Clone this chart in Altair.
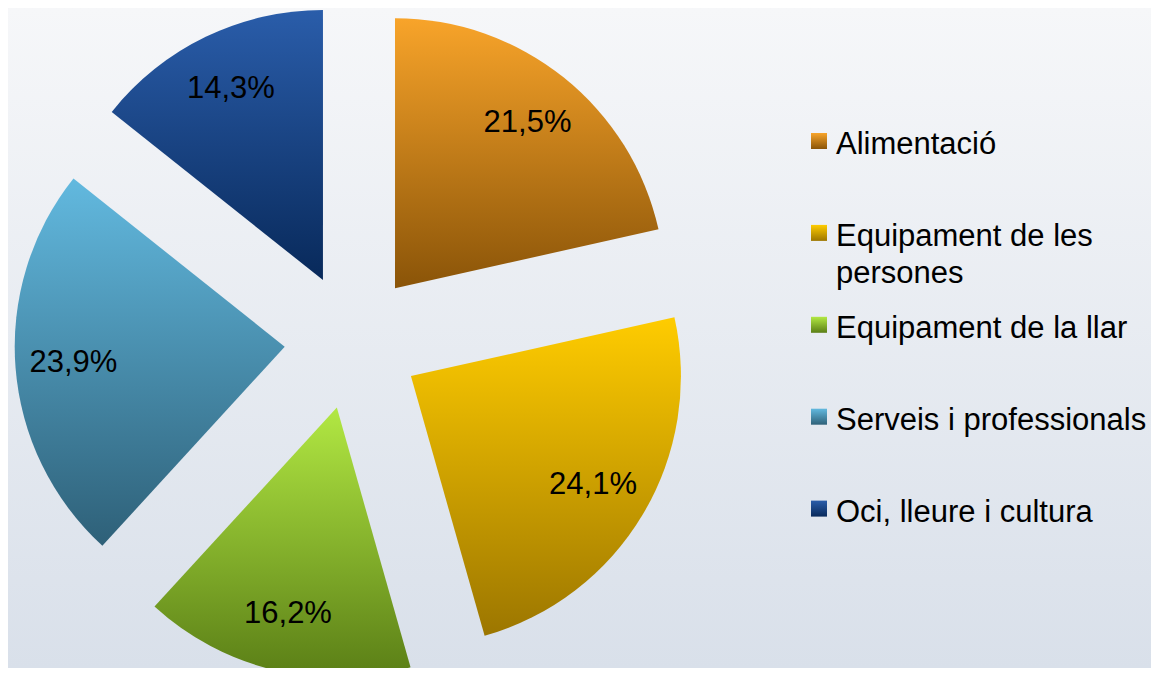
import altair as alt
import pandas as pd

# ---- data ----
categories = [
    "Alimentació",
    "Equipament de les persones",
    "Equipament de la llar",
    "Serveis i professionals",
    "Oci, lleure i cultura",
]
shares = [21.5, 24.1, 16.2, 23.9, 14.3]
legend_lines = [
    ["Alimentació"],
    ["Equipament de les", "persones"],
    ["Equipament de la llar"],
    ["Serveis i professionals"],
    ["Oci, lleure i cultura"],
]
top_colors = ["#F8A42A", "#FFCC00", "#B2E843", "#62B9DF", "#2A5DAA"]
bottom_colors = ["#8A5408", "#9C7600", "#5A7E16", "#2E6078", "#08295A"]

df = pd.DataFrame({
    "category": categories,
    "share": shares,
    "order": list(range(len(categories))),
    "lines": legend_lines,
})

# ---- layout ----
W, H = 1143, 660
CX, CY = 344.5, 333.3      # pie centre
R = 270                    # pie radius
EXPLODE = 68               # explosion distance
LABEL_R = 212              # label distance from slice apex
LEG_X = 811                # legend swatch centre x
LEG_Y0 = 133               # first swatch centre y
LEG_STEP = 91.9            # swatch spacing
FONT = "Liberation Sans"

base = (
    alt.Chart(df)
    .transform_joinaggregate(total="sum(share)")
    .transform_window(cum="sum(share)", sort=[alt.SortField("order")], frame=[None, 0])
    .transform_calculate(
        t1="2*PI*datum.cum/datum.total",
        t0="2*PI*(datum.cum-datum.share)/datum.total",
    )
    .transform_calculate(mid="(datum.t0+datum.t1)/2")
    .transform_calculate(
        cx=f"{CX}+{EXPLODE}*sin(datum.mid)",
        cy=f"{CY}-{EXPLODE}*cos(datum.mid)",
    )
    .transform_calculate(
        lx=f"datum.cx+{LABEL_R}*sin(datum.mid)",
        ly=f"datum.cy-{LABEL_R}*cos(datum.mid)",
        label="replace(format(datum.share, '.1f'), '.', ',') + '%'",
        sy=f"{LEG_Y0}+datum.order*{LEG_STEP}",
    )
    .transform_calculate(ty="datum.sy+13")
)


def grad(i):
    return alt.LinearGradient(
        gradient="linear",
        stops=[
            alt.GradientStop(color=top_colors[i], offset=0),
            alt.GradientStop(color=bottom_colors[i], offset=1),
        ],
        x1=0, x2=0, y1=0, y2=1,
    )


bg = alt.Chart(pd.DataFrame({"a": [0]})).mark_rect(
    fill=alt.LinearGradient(
        gradient="linear",
        stops=[
            alt.GradientStop(color="#F6F7F9", offset=0),
            alt.GradientStop(color="#D9E0EA", offset=1),
        ],
        x1=0, x2=0, y1=0, y2=1,
    )
).encode(x=alt.value(0), x2=alt.value("width"), y=alt.value(0), y2=alt.value("height"))

arcs = []
squares = []
for i, cat in enumerate(categories):
    sub = base.transform_filter(alt.datum.category == cat)
    arcs.append(
        sub.mark_arc(fill=grad(i), radius=R).encode(
            theta=alt.Theta("t0:Q", scale=None, stack=None),
            theta2=alt.Theta2("t1:Q"),
            x=alt.X("cx:Q", scale=None),
            y=alt.Y("cy:Q", scale=None),
        )
    )
    squares.append(
        sub.mark_square(fill=grad(i), size=256, opacity=1).encode(
            x=alt.value(LEG_X),
            y=alt.Y("sy:Q", scale=None),
        )
    )

labels = base.mark_text(fontSize=31, font=FONT, color="black").encode(
    x=alt.X("lx:Q", scale=None),
    y=alt.Y("ly:Q", scale=None),
    text=alt.Text("label:N"),
)

legend_text = base.mark_text(
    align="left", baseline="alphabetic", fontSize=31, font=FONT,
    color="black", lineHeight=37,
).encode(
    x=alt.value(LEG_X + 17),
    y=alt.Y("ty:Q", scale=None),
    text=alt.Text("lines:N"),
)

chart = (
    alt.layer(bg, *arcs, labels, *squares, legend_text)
    .properties(width=W, height=H, autosize=alt.AutoSizeParams(type="none"), padding=0)
    .configure_view(stroke=None)
)

chart.save("out.html", embed_options={"renderer": "svg", "actions": False})
